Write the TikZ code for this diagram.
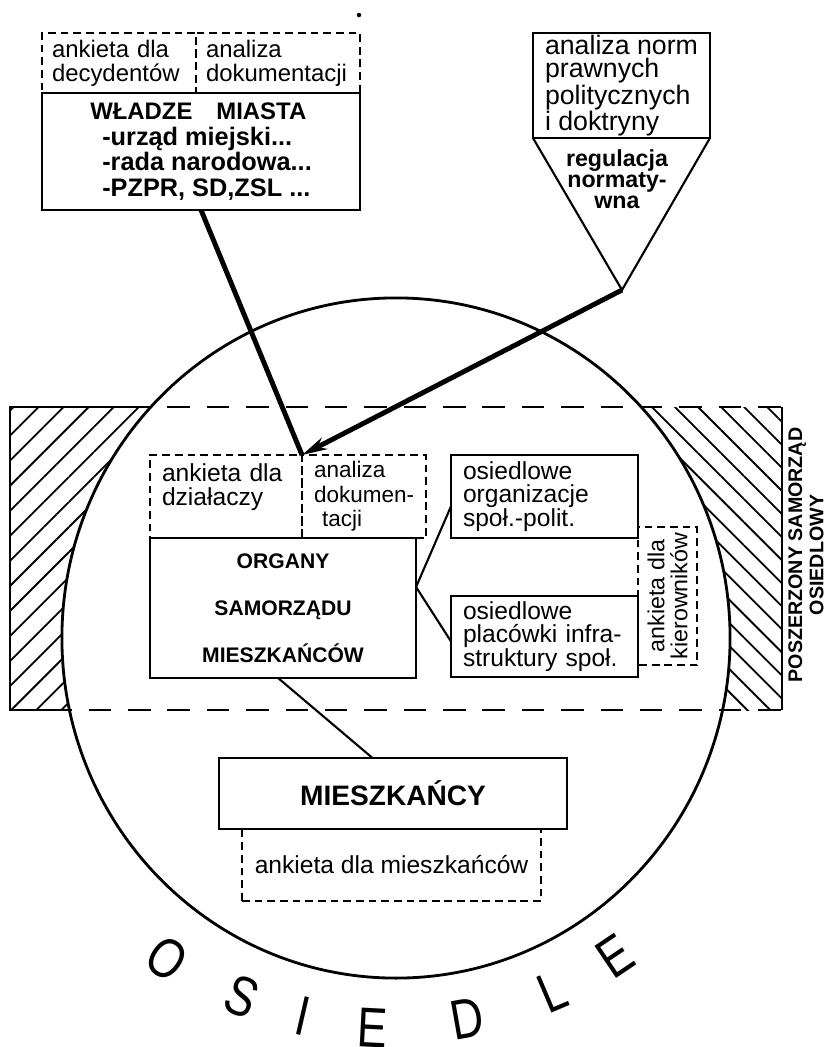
\documentclass[tikz,border=0pt]{standalone}
\usepackage{fontspec}
\setmainfont{Liberation Sans}
\usetikzlibrary{positioning,arrows.meta,patterns.meta}

\begin{document}
\begin{tikzpicture}[x=0.025cm, y=-0.025cm,
  every node/.style={inner sep=0pt, outer sep=0pt},
  ramka/.style={draw, line width=1.5pt, inner xsep=0.3cm},
  kwestionariusz/.style={draw, line width=1.3pt, dash pattern=on 5.5pt off 3.5pt, inner xsep=0.3cm},
  opis/.style={font=\fontsize{17.5}{17}\selectfont},
  gruby/.style={line width=3.5pt},
  kreska/.style={line width=1.5pt},
  granica/.style={line width=1.4pt, dash pattern=on 16pt off 12pt}]
\useasboundingbox (0,0) rectangle (830,1047);

% Osiedle - obszar
\begin{scope}
\clip (10,407) rectangle (396,710);
\fill[pattern={Lines[angle=45, distance=12.6pt, line width=1.3pt]}, even odd rule] (0,380) rectangle (500,740) (396,638) ellipse [x radius=8.35cm, y radius=8.5cm];
\end{scope}
\begin{scope}
\clip (396,407) rectangle (782,710);
\fill[pattern={Lines[angle=-45, distance=11.6pt, line width=1.3pt]}, even odd rule] (300,380) rectangle (830,740) (396,638) ellipse [x radius=8.35cm, y radius=8.5cm];
\end{scope}
\draw[granica] (10,407) -- (782,407);
\draw[granica] (10,710) -- (782,710);
\draw[kreska] (150,407) -- (10,407) -- (10,710) -- (70,710);
\draw[kreska] (782,407) -- (782,710);
\draw[line width=2pt] (396,638) ellipse [x radius=8.35cm, y radius=8.5cm];
\fill (359,15) circle (1.6pt);

% Wladze miasta
\node (wladze) [ramka, anchor=north west, minimum width=7.95cm, minimum height=2.925cm, align=left, font=\fontsize{18}{18.3}\selectfont\bfseries] at (42,93)
  {{\fontsize{17}{18.3}\selectfont WŁADZE\quad MIASTA}\\
   \hspace*{0.3cm}-urząd miejski...\\
   \hspace*{0.3cm}-rada narodowa...\\
   \hspace*{0.3cm}-PZPR, SD,ZSL ...};
\node (ankieta-decyd) [kwestionariusz, above=0pt of wladze.north west, anchor=south west, minimum width=3.85cm, minimum height=1.5cm, text width=3.35cm, inner xsep=0.25cm, align=left, font=\fontsize{17}{17}\selectfont] {ankieta dla\\decydentów};
\node (analiza-dok) [kwestionariusz, right=0pt of ankieta-decyd.south east, anchor=south west, minimum width=4.1cm, minimum height=1.5cm, text width=3.6cm, inner xsep=0.25cm, align=left, font=\fontsize{17}{17}\selectfont] {analiza\\dokumentacji};

% Normy
\node (normy) [ramka, anchor=north west, minimum width=4.35cm, minimum height=2.625cm, align=left, font=\fontsize{19}{16.6}\selectfont] at (533,33)
  {analiza norm\\prawnych\\politycznych\\i doktryny};
\coordinate (szczyt) at (622,290);
\draw[kreska, line join=miter] (normy.south west) -- (szczyt) -- (normy.south east);
\node (regulacja) [align=center, font=\fontsize{16.5}{15}\selectfont\bfseries] at (617,179) {regulacja\\normaty-\\wna};

% Samorzad
\node (ankieta-dzial) [kwestionariusz, anchor=north west, minimum width=3.8cm, minimum height=2.075cm, text width=3.2cm, align=left, opis] at (150,455) {ankieta dla\\działaczy\\\mbox{}};
\node (analiza-dzial) [kwestionariusz, right=0pt of ankieta-dzial.north east, anchor=north west, minimum width=2.85cm, minimum height=2.075cm, align=left, font=\fontsize{16}{17.5}\selectfont] {analiza\\dokumen-\\\hspace*{0.2cm}tacji};
\node (organy) [ramka, below=0pt of ankieta-dzial.south west, anchor=north west, minimum width=6.65cm, minimum height=3.5cm, align=center, font=\fontsize{15}{33.4}\selectfont\bfseries] {ORGANY\\SAMORZĄDU\\MIESZKAŃCÓW};

\node (kierownicy) [kwestionariusz, rotate=90, minimum width=3.45cm, minimum height=1.475cm, inner xsep=0pt, align=center, font=\fontsize{16.5}{16.4}\selectfont] at (667.5,596) {ankieta dla\\kierowników};
\node (organizacje) [ramka, anchor=north west, minimum width=4.675cm, minimum height=2.075cm, text width=4.075cm, align=left, font=\fontsize{17.5}{16.7}\selectfont] at (451,455) {osiedlowe\\organizacje\\społ.-polit.};
\node (placowki) [ramka, anchor=north west, minimum width=4.675cm, minimum height=2.025cm, text width=4.075cm, align=left, font=\fontsize{17.5}{16.7}\selectfont] at (451,596) {osiedlowe\\placówki infra-\\struktury społ.};

\draw[kreska] (organy.9) -- (organizacje.186);
\draw[kreska] (organy.9) -- (placowki.183);

% Mieszkancy
\node (ankieta-mieszk) [kwestionariusz, anchor=north west, minimum width=7.475cm, minimum height=1.8cm, opis] at (242,829) {ankieta dla mieszkańców};
\node (mieszkancy) [ramka, anchor=north west, minimum width=8.7cm, minimum height=1.775cm, font=\fontsize{20}{24}\selectfont\bfseries] at (219,758) {MIESZKAŃCY};
\draw[kreska] (organy.266) -- (mieszkancy.120);

% Powiazania
\draw[gruby] (wladze.south) -- (ankieta-dzial.north east);
\draw[gruby, -{Stealth[length=18pt, width=9pt]}] (szczyt) -- (ankieta-dzial.north east);

\node (poszerzony) [rotate=90, align=center, font=\fontsize{14}{15}\selectfont\bfseries] at (806,555) {POSZERZONY SAMORZĄD\\OSIEDLOWY};

% Napis OSIEDLE
\foreach \lit/\px/\py/\kat [count=\i] in {O/167/959/-35, S/242/997/-23, I/303/1016/-13, E/372/1028/-3, D/467/1019/10, L/552/992/23, E/615/956/34}
  \node (litera-\i) [rotate=\kat, xscale=0.8, font=\fontsize{40}{40}\selectfont] at (\px,\py) {\lit};
\end{tikzpicture}
\end{document}
